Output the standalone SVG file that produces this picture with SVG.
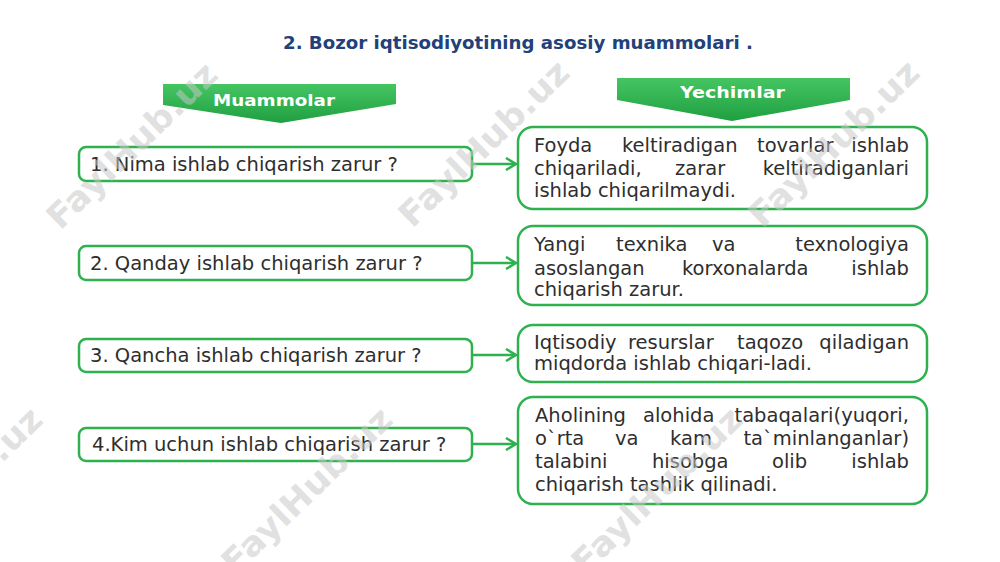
<svg xmlns="http://www.w3.org/2000/svg" width="1000" height="562" viewBox="0 0 1000 562">
<style>
  .box { fill: #ffffff; stroke: #2fb150; stroke-width: 2.5; }
  .t { font-family: "DejaVu Sans", "Verdana", sans-serif; font-size: 19.5px; fill: #2e2e2e; }
  .e { text-anchor: end; }
  .ban { font-family: "DejaVu Sans", sans-serif; font-weight: bold; font-size: 16.5px; fill: #ffffff; }
  .title { font-family: "DejaVu Sans", sans-serif; font-weight: bold; font-size: 18px; fill: #22417a; }
  .wm { font-family: "DejaVu Sans", sans-serif; font-weight: bold; font-size: 34px; fill: #c8c8c8; fill-opacity: 0.55; text-anchor: middle; }
  .conn { stroke: #2fb150; stroke-width: 2.5; fill: none; }
</style>
<defs>
  <linearGradient id="g" x1="0" y1="0" x2="0" y2="1">
    <stop offset="0" stop-color="#45c562"/>
    <stop offset="1" stop-color="#1f9f40"/>
  </linearGradient>
  <marker id="arr" markerUnits="userSpaceOnUse" markerWidth="14" markerHeight="14" refX="11" refY="7" orient="auto">
    <path d="M1,1 L11,7 L1,13" fill="none" stroke="#2fb150" stroke-width="2.5"/>
  </marker>
</defs>
<rect width="1000" height="562" fill="#ffffff"/>

<g id="title">
  <text class="title" x="283" y="49" textLength="470" lengthAdjust="spacingAndGlyphs">2. Bozor iqtisodiyotining asosiy muammolari  .</text>
</g>

<g id="banner-muammolar">
  <polygon points="163,84 396,84 396,104 281,123 163,105" fill="url(#g)"/>
  <text class="ban" x="213" y="106" textLength="122" lengthAdjust="spacingAndGlyphs">Muammolar</text>
</g>
<g id="banner-yechimlar">
  <polygon points="617,78 850,78 850,100 732,121 617,100" fill="url(#g)"/>
  <text class="ban" x="680" y="98" textLength="105" lengthAdjust="spacingAndGlyphs">Yechimlar</text>
</g>

<g id="q1">
  <rect class="box" x="79" y="147" width="393" height="34" rx="7"/>
  <text class="t" x="90" y="171">1. Nima ishlab chiqarish zarur ?</text>
</g>
<g id="q2">
  <rect class="box" x="79" y="246" width="393" height="34" rx="7"/>
  <text class="t" x="90" y="270">2. Qanday ishlab chiqarish zarur ?</text>
</g>
<g id="q3">
  <rect class="box" x="79" y="339" width="393" height="33" rx="7"/>
  <text class="t" x="90" y="362">3. Qancha ishlab chiqarish zarur ?</text>
</g>
<g id="q4">
  <rect class="box" x="79" y="428" width="393" height="33" rx="7"/>
  <text class="t" x="92" y="451">4.Kim uchun ishlab chiqarish zarur ?</text>
</g>

<g id="a1">
  <rect class="box" x="518" y="127" width="409" height="82" rx="15"/>
  <text class="t" x="534" y="152">Foyda</text>
  <text class="t" x="622" y="152">keltiradigan</text>
  <text class="t" x="757" y="152">tovarlar</text>
  <text class="t e" x="909" y="152">ishlab</text>
  <text class="t" x="534" y="175">chiqariladi,</text>
  <text class="t" x="675" y="175">zarar</text>
  <text class="t e" x="909" y="175">keltiradiganlari</text>
  <text class="t" x="534" y="197">ishlab chiqarilmaydi.</text>
</g>
<g id="a2">
  <rect class="box" x="518" y="226" width="409" height="79" rx="15"/>
  <text class="t" x="534" y="251">Yangi</text>
  <text class="t" x="616" y="251">texnika</text>
  <text class="t" x="712" y="251">va</text>
  <text class="t e" x="909" y="251">texnologiya</text>
  <text class="t" x="534" y="275">asoslangan</text>
  <text class="t" x="682" y="275">korxonalarda</text>
  <text class="t e" x="909" y="275">ishlab</text>
  <text class="t" x="534" y="296">chiqarish zarur.</text>
</g>
<g id="a3">
  <rect class="box" x="518" y="325" width="409" height="57" rx="15"/>
  <text class="t" x="534" y="349">Iqtisodiy</text>
  <text class="t" x="628" y="349">resurslar</text>
  <text class="t" x="737" y="349">taqozo</text>
  <text class="t e" x="909" y="349">qiladigan</text>
  <text class="t" x="534" y="370">miqdorda ishlab chiqari-ladi.</text>
</g>
<g id="a4">
  <rect class="box" x="518" y="397" width="409" height="107" rx="15"/>
  <text class="t" x="535" y="422">Aholining</text>
  <text class="t" x="643" y="422">alohida</text>
  <text class="t e" x="909" y="422">tabaqalari(yuqori,</text>
  <text class="t" x="535" y="445">o`rta</text>
  <text class="t" x="615" y="445">va</text>
  <text class="t" x="670" y="445">kam</text>
  <text class="t e" x="909" y="445">ta`minlanganlar)</text>
  <text class="t" x="535" y="468">talabini</text>
  <text class="t" x="652" y="468">hisobga</text>
  <text class="t" x="772" y="468">olib</text>
  <text class="t e" x="909" y="468">ishlab</text>
  <text class="t" x="535" y="491">chiqarish tashlik qilinadi.</text>
</g>

<g id="connectors">
  <line class="conn" x1="472" y1="164" x2="516" y2="164" marker-end="url(#arr)"/>
  <line class="conn" x1="472" y1="263" x2="516" y2="263" marker-end="url(#arr)"/>
  <line class="conn" x1="472" y1="355" x2="516" y2="355" marker-end="url(#arr)"/>
  <line class="conn" x1="472" y1="444" x2="516" y2="444" marker-end="url(#arr)"/>
</g>

<g id="watermarks">
  <text class="wm" transform="translate(140,154) rotate(-44)" textLength="222" lengthAdjust="spacingAndGlyphs">FaylHub.uz</text>
  <text class="wm" transform="translate(492,152) rotate(-44)" textLength="222" lengthAdjust="spacingAndGlyphs">FaylHub.uz</text>
  <text class="wm" transform="translate(842,152) rotate(-44)" textLength="222" lengthAdjust="spacingAndGlyphs">FaylHub.uz</text>
  <text class="wm" transform="translate(-35,499) rotate(-44)" textLength="222" lengthAdjust="spacingAndGlyphs">FaylHub.uz</text>
  <text class="wm" transform="translate(315,499) rotate(-44)" textLength="222" lengthAdjust="spacingAndGlyphs">FaylHub.uz</text>
  <text class="wm" transform="translate(665,499) rotate(-44)" textLength="222" lengthAdjust="spacingAndGlyphs">FaylHub.uz</text>
</g>
</svg>
